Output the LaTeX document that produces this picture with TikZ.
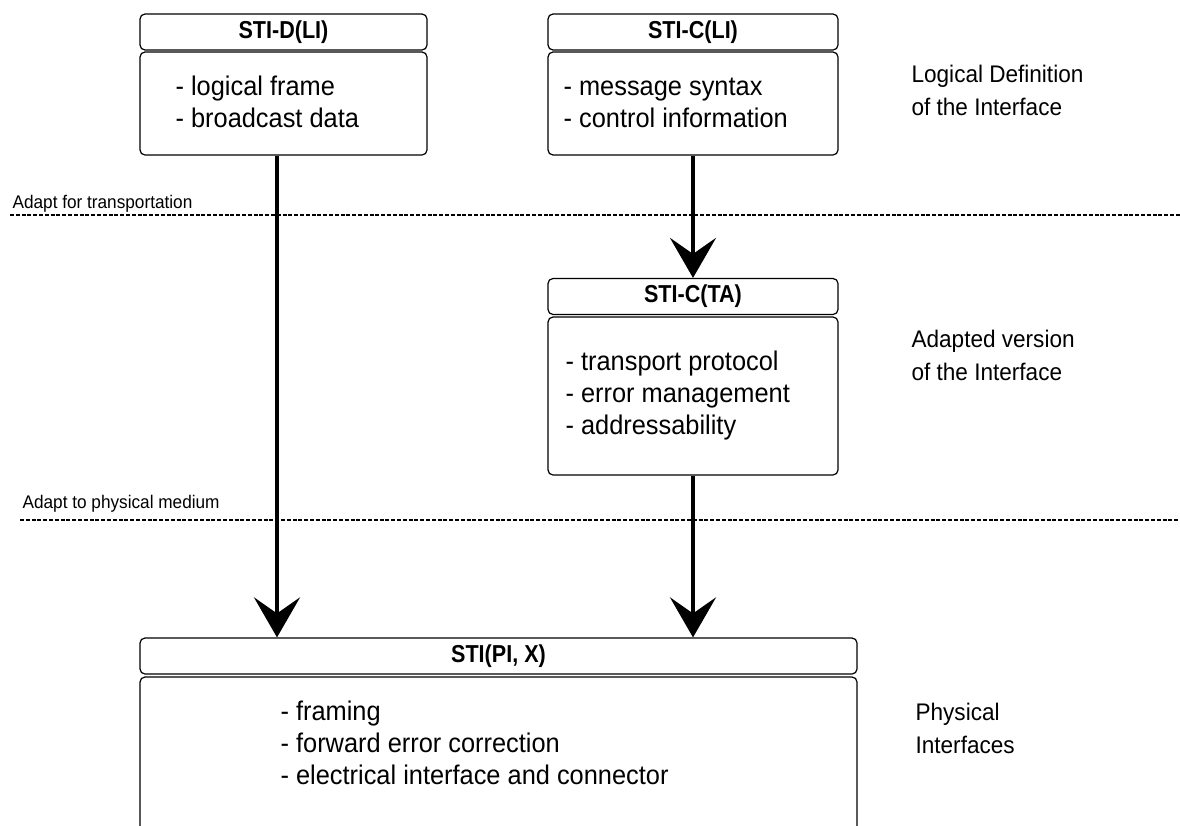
\documentclass[tikz,border=0pt]{standalone}
\usepackage{fontspec}
\setmainfont{Liberation Sans}
\newfontfamily\narrowfont[FakeStretch=0.94]{Liberation Sans}
\newfontfamily\headfont[FakeStretch=0.88]{Liberation Sans}
\usetikzlibrary{arrows.meta}
\tikzset{
every picture/.style={
line width=1.2pt
}}

\begin{document}
\begin{tikzpicture}[x=1pt,y=-1pt,>={Stealth[length=40pt,width=46pt,inset=16pt]},
head/.style={draw, rounded corners=5pt, minimum height=36pt, inner sep=0pt, font=\headfont\bfseries\fontsize{24.5}{28}\selectfont},
body/.style={draw, rounded corners=5pt, inner sep=0pt},
items/.style={anchor=north west, inner sep=0pt, align=left, font=\narrowfont\fontsize{27}{32}\selectfont},
side/.style={anchor=north west, inner sep=0pt, align=left, font=\narrowfont\fontsize{24}{33}\selectfont},
note/.style={anchor=base west, inner sep=0pt, font=\narrowfont\fontsize{18.3}{21}\selectfont},
sep/.style={dash pattern=on 4pt off 1.8pt, line width=1.6pt},
flow/.style={->, line width=4pt}]

\clip (0,0) rectangle (1180,825);

% logical interfaces
\node[head, minimum width=287pt] (dhead) at (283.5,32) {STI-D(LI)};
\node[body, minimum width=287pt, minimum height=103pt] (dbody) at (283.5,103.5) {};
\node[items] (dlist) at (175,72) {\strut- logical frame\\- broadcast data};

\node[head, minimum width=290pt] (chead) at (693,32) {STI-C(LI)};
\node[body, minimum width=290pt, minimum height=103pt] (cbody) at (693,103.5) {};
\node[items] (clist) at (563,72) {\strut- message syntax\\- control information};

% adapted version
\node[head, minimum width=290pt] (tahead) at (693,296.5) {STI-C(TA)};
\node[body, minimum width=290pt, minimum height=158pt] (tabody) at (693,396) {};
\node[items] (talist) at (565,347) {\strut- transport protocol\\- error management\\- addressability};

% physical interface
\node[head, minimum width=717pt] (pihead) at (498.5,656) {STI(PI, X)};
\node[body, minimum width=717pt, minimum height=173pt] (pibody) at (498.5,763.5) {};
\node[items] (pilist) at (280,697) {\strut- framing\\- forward error correction\\- electrical interface and connector};

% layer names
\node[side] (lidef) at (911,59) {\strut Logical Definition\\of the Interface};
\node[side] (tadef) at (911,324) {\strut Adapted version\\of the Interface};
\node[side] (pidef) at (915,697) {\strut Physical\\Interfaces};

% adaptation steps
\node[note] (transp) at (12,208) {Adapt for transportation};
\node[note] (medium) at (22,508) {Adapt to physical medium};
\draw[sep] (10,215) -- (1180,215);
\draw[sep] (20,520) -- (1180,520);

\path[flow] ([xshift=-6.5pt]dbody.south) edge ([xshift=-6.5pt]dbody.south |- pihead.north)
(cbody.south) edge (tahead.north)
(tabody.south) edge (tabody.south |- pihead.north);
\end{tikzpicture}
\end{document}
